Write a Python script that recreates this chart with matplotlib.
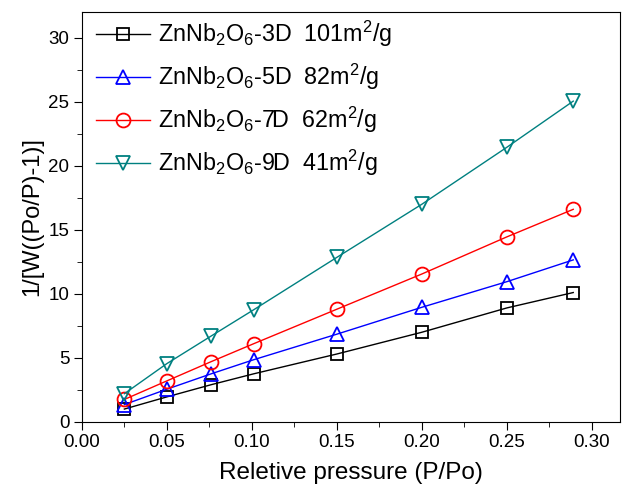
import numpy as np
import matplotlib.pyplot as plt
from matplotlib.ticker import MultipleLocator

plt.rcParams['font.family'] = ['Liberation Sans', 'DejaVu Sans']
plt.rcParams['mathtext.fontset'] = 'custom'
plt.rcParams['mathtext.rm'] = 'Liberation Sans'
plt.rcParams['mathtext.it'] = 'Liberation Sans'

pressure = [0.025, 0.05, 0.076, 0.101, 0.15, 0.20, 0.25, 0.289]
y_3d = [1.0, 1.95, 2.9, 3.75, 5.3, 7.0, 8.9, 10.1]
y_5d = [1.35, 2.55, 3.75, 4.85, 6.85, 8.95, 10.95, 12.65]
y_7d = [1.75, 3.2, 4.7, 6.1, 8.8, 11.55, 14.45, 16.6]
y_9d = [2.2, 4.55, 6.7, 8.75, 12.85, 17.0, 21.45, 25.05]

labels = [r'ZnNb$_2$O$_6$-3D  101m$^2$/g',
          r'ZnNb$_2$O$_6$-5D  82m$^2$/g',
          r'ZnNb$_2$O$_6$-7D  62m$^2$/g',
          r'ZnNb$_2$O$_6$-9D  41m$^2$/g']
series = [y_3d, y_5d, y_7d, y_9d]
colors = ['black', '#0000ff', '#ff0000', '#008080']
markers = ['s', '^', 'o', 'v']

fig, ax = plt.subplots(figsize=(6.25, 4.86), dpi=100)
fig.subplots_adjust(left=0.131, right=0.992, top=0.975, bottom=0.132)

for ys, lab, c, m in zip(series, labels, colors, markers):
    ax.plot(pressure, ys, color=c, marker=m, markersize=10 if m != 's' else 9,
            markerfacecolor='none', markeredgewidth=1.3, linewidth=1.0, label=lab)

ax.set_xlim(0, 0.3165)
ax.set_ylim(0, 32)
ax.xaxis.set_major_locator(MultipleLocator(0.05))
ax.xaxis.set_minor_locator(MultipleLocator(0.025))
ax.yaxis.set_major_locator(MultipleLocator(5))
ax.yaxis.set_minor_locator(MultipleLocator(2.5))
ax.xaxis.set_major_formatter(plt.FormatStrFormatter('%.2f'))
ax.tick_params(which='both', direction='out', top=False, right=False, labelsize=13.5)
ax.tick_params(which='major', length=6, pad=3)
ax.tick_params(which='minor', length=3.5)

ax.set_xlabel('Reletive pressure (P/Po)', fontsize=17.5, labelpad=8)
ax.set_ylabel('1/[W((Po/P)-1)]', fontsize=17, labelpad=4)

ax.legend(loc='upper left', bbox_to_anchor=(0.013, 1.0), frameon=False,
          fontsize=16.8, handlelength=2.3, handletextpad=0.35,
          labelspacing=0.55, borderaxespad=0.0, borderpad=0.3)

fig.savefig('out.png')
